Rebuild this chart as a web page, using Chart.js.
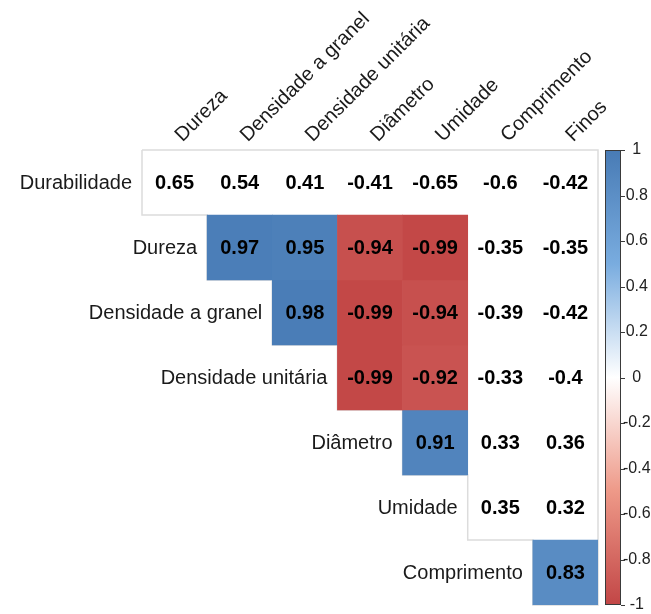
<!DOCTYPE html>
<html>
<head>
<meta charset="utf-8">
<script src="https://cdn.jsdelivr.net/npm/chart.js@4"></script>
<style>
  html, body { margin: 0; padding: 0; background: #fff; }
  canvas { display: block; }
</style>
</head>
<body>
<canvas id="corrChart" width="651" height="614"></canvas>
<script>
const colLabels = ['Dureza', 'Densidade a granel', 'Densidade unitária', 'Diâmetro', 'Umidade', 'Comprimento', 'Finos'];
const rowLabels = ['Durabilidade', 'Dureza', 'Densidade a granel', 'Densidade unitária', 'Diâmetro', 'Umidade', 'Comprimento'];

// upper triangle, row by row (row i starts at column i)
const corrDurabilidade = [0.65, 0.54, 0.41, -0.41, -0.65, -0.6, -0.42];
const corrDureza = [0.97, 0.95, -0.94, -0.99, -0.35, -0.35];
const corrGranel = [0.98, -0.99, -0.94, -0.39, -0.42];
const corrUnitaria = [-0.99, -0.92, -0.33, -0.4];
const corrDiametro = [0.91, 0.33, 0.36];
const corrUmidade = [0.35, 0.32];
const corrComprimento = [0.83];
const corrRows = [corrDurabilidade, corrDureza, corrGranel, corrUnitaria, corrDiametro, corrUmidade, corrComprimento];

// 1 = significant (cell is filled), 0 = left blank
const sigDurabilidade = [0, 0, 0, 0, 0, 0, 0];
const sigDureza = [1, 1, 1, 1, 0, 0];
const sigGranel = [1, 1, 1, 0, 0];
const sigUnitaria = [1, 1, 0, 0];
const sigDiametro = [1, 0, 0];
const sigUmidade = [0, 0];
const sigComprimento = [1];
const sigRows = [sigDurabilidade, sigDureza, sigGranel, sigUnitaria, sigDiametro, sigUmidade, sigComprimento];

// colour bar
const barMin = -1, barMax = 1, barStep = 0.2;
const paletteStops = [-1, -0.5, 0, 0.5, 1];
const paletteCols = ['#C24646', '#EE9988', '#FFFFFF', '#79ACDF', '#487BB5'];

const FONT = "'Liberation Sans', Arial, sans-serif";

function hexRgb(h) {
  return [1, 3, 5].map(i => parseInt(h.substr(i, 2), 16));
}
function corrColor(v) {
  for (let i = 0; i < paletteStops.length - 1; i++) {
    if (v <= paletteStops[i + 1]) {
      const t = (v - paletteStops[i]) / (paletteStops[i + 1] - paletteStops[i]);
      const a = hexRgb(paletteCols[i]), b = hexRgb(paletteCols[i + 1]);
      const c = a.map((x, k) => Math.round(x + (b[k] - x) * t));
      return `rgb(${c[0]},${c[1]},${c[2]})`;
    }
  }
  return paletteCols[paletteCols.length - 1];
}

const datasets = corrRows.map((vals, r) => ({
  label: rowLabels[r],
  data: colLabels.map((_, c) => c >= r ? [r - 0.5, r + 0.5] : null),
  backgroundColor: colLabels.map((_, c) => (c >= r && sigRows[r][c - r]) ? corrColor(vals[c - r]) : 'rgba(0,0,0,0)'),
  borderWidth: 0,
  barPercentage: 1,
  categoryPercentage: 1,
  grouped: false,
}));

const matrixDecor = {
  id: 'matrixDecor',
  beforeDatasetsDraw(chart) {
    // light outline round the upper triangle
    const { ctx, scales: { x, y } } = chart;
    const half = (x.getPixelForValue(1) - x.getPixelForValue(0)) / 2;
    const xl = c => x.getPixelForValue(c) - half;
    const yt = r => y.getPixelForValue(r - 0.5);
    const n = colLabels.length;
    ctx.save();
    ctx.strokeStyle = '#dcdcdc';
    ctx.lineWidth = 1.5;
    ctx.beginPath();
    ctx.moveTo(xl(0), yt(0));
    ctx.lineTo(xl(n), yt(0));
    ctx.lineTo(xl(n), yt(n));
    for (let r = n - 1; r >= 0; r--) {
      ctx.lineTo(xl(r), yt(r + 1));
      ctx.lineTo(xl(r), yt(r));
    }
    ctx.stroke();
    ctx.restore();
  },
  afterDatasetsDraw(chart) {
    const { ctx, scales: { x, y, y2 } } = chart;
    const half = (x.getPixelForValue(1) - x.getPixelForValue(0)) / 2;
    ctx.save();
    ctx.textBaseline = 'middle';

    // values
    ctx.font = `bold 20px ${FONT}`;
    ctx.fillStyle = '#000';
    ctx.textAlign = 'center';
    corrRows.forEach((vals, r) => {
      const meta = chart.getDatasetMeta(r);
      vals.forEach((v, k) => {
        const el = meta.data[r + k];
        ctx.fillText(String(v), el.x, (el.y + el.base) / 2 + 1);
      });
    });

    // row labels, just left of each row's first cell
    ctx.font = `20px ${FONT}`;
    ctx.fillStyle = '#1a1a1a';
    ctx.textAlign = 'right';
    rowLabels.forEach((lab, r) => {
      ctx.fillText(lab, x.getPixelForValue(r) - half - 10, y.getPixelForValue(r) + 1);
    });

    // colour bar on the y2 scale
    const top = y2.getPixelForValue(barMax), bot = y2.getPixelForValue(barMin);
    const bx = y2.left + 7, bw = 16;
    const g = ctx.createLinearGradient(0, bot, 0, top);
    paletteStops.forEach((s, i) => g.addColorStop((s - barMin) / (barMax - barMin), paletteCols[i]));
    ctx.fillStyle = g;
    ctx.fillRect(bx, top, bw, bot - top);
    ctx.strokeStyle = '#3a3a3a';
    ctx.lineWidth = 1;
    ctx.strokeRect(bx + 0.5, top + 0.5, bw - 1, bot - top - 1);
    ctx.beginPath();
    y2.ticks.forEach(t => {
      const py = Math.round(y2.getPixelForValue(t.value)) + 0.5;
      ctx.moveTo(bx + bw, py);
      ctx.lineTo(bx + bw + 4, py);
    });
    ctx.stroke();
    ctx.restore();
  }
};

new Chart(document.getElementById('corrChart'), {
  type: 'bar',
  data: { labels: colLabels, datasets },
  options: {
    responsive: false,
    animation: false,
    devicePixelRatio: 1,
    layout: { padding: { left: 142, right: 0, top: 0, bottom: 9 } },
    plugins: { legend: { display: false }, tooltip: { enabled: false } },
    scales: {
      x: {
        position: 'top',
        offset: true,
        grid: { display: false, drawTicks: false },
        border: { display: false },
        ticks: {
          autoSkip: false, minRotation: 45, maxRotation: 45, padding: 3, labelOffset: 21,
          color: '#1a1a1a', font: { family: FONT, size: 20 },
        },
        afterFit: s => { s.height = 150; s.paddingLeft = 0; s.paddingRight = 0; },
      },
      y: {
        display: false,
        reverse: true,
        min: -0.5,
        max: rowLabels.length - 0.5,
      },
      y2: {
        position: 'right',
        min: barMin,
        max: barMax,
        grid: { display: false, drawTicks: false },
        border: { display: false },
        ticks: {
          stepSize: barStep, crossAlign: 'center', padding: 25,
          color: '#222', font: { family: FONT, size: 16 },
          callback: v => String(+v.toFixed(1)),
        },
        afterFit: s => { s.width = 53; s.paddingTop = 0; s.paddingBottom = 0; },
      },
    },
  },
  plugins: [matrixDecor],
});
</script>
</body>
</html>
